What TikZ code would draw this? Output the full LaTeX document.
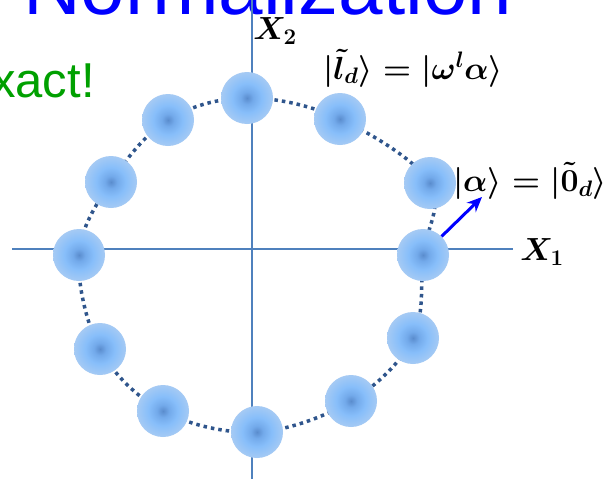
\RequirePackage{fix-cm}
\documentclass[tikz,border=0pt]{standalone}
\usepackage{amsmath}
\usepackage{fontspec}
\newfontfamily\arialfont{Liberation Sans}
\usetikzlibrary{arrows.meta}
\definecolor{axisblue}{RGB}{79,129,189}
\definecolor{dotblue}{RGB}{47,85,140}
\definecolor{titleblue}{RGB}{0,0,255}
\definecolor{exgreen}{RGB}{0,160,0}
\definecolor{ballc}{RGB}{90,140,205}
\definecolor{ballq}{RGB}{115,170,235}
\definecolor{ballm}{RGB}{135,190,250}
\definecolor{ballr}{RGB}{165,202,244}
\definecolor{ballt}{RGB}{188,210,238}
\definecolor{balle}{RGB}{202,216,238}
\pgfdeclareradialshading{ballshade}{\pgfpoint{0bp}{0bp}}{%
  color(0bp)=(ballc); color(6bp)=(ballq); color(14bp)=(ballm); color(25bp)=(ballr); color(37bp)=(ballt); color(50bp)=(balle); color(70bp)=(balle)}
\tikzset{
  ball/.style={circle, minimum size=52pt, inner sep=0pt, shading=ballshade},
  axisline/.style={draw=axisblue, line width=2pt},
  ring/.style={draw=dotblue, line width=3.5pt, dash pattern=on 3.5pt off 4pt},
  mlabel/.style={inner sep=0pt, font=\fontsize{32}{38}\selectfont\boldmath},
  bluearrow/.style={draw=titleblue, line width=3pt, -{Stealth[length=15pt,width=13pt]}}
}
\begin{document}
\begin{tikzpicture}[x=1pt,y=-1pt]
\useasboundingbox (0,0) rectangle (612,479);
\fill[white] (0,0) rectangle (612,479);
% title and side text (cut by the frame)
\node[anchor=base west, inner sep=0pt, text=titleblue, font=\arialfont\fontsize{80}{90}\selectfont] (title) at (23,14) {Normalization};
\node[anchor=base west, inner sep=0pt, text=exgreen, font=\arialfont\fontsize{49}{56}\selectfont] (exact) at (-9,97) {xact!};
% axes
\coordinate (xl) at (12,249);
\coordinate (xr) at (513,249);
\coordinate (yt) at (252,0);
\coordinate (yb) at (252,479);
\draw[axisline] (xl) -- (xr);
\draw[axisline] (yt) -- (yb);
% ball positions
\coordinate (c1) at (247,98);
\coordinate (c2) at (340,119);
\coordinate (c3) at (430,183);
\coordinate (c4) at (423,255);
\coordinate (c5) at (413,338);
\coordinate (c6) at (351,401);
\coordinate (c7) at (257,432);
\coordinate (c8) at (163,411);
\coordinate (c9) at (100,349);
\coordinate (c10) at (79,255);
\coordinate (c11) at (111,182);
\coordinate (c12) at (168,120);
\draw[ring] plot[smooth cycle, tension=0.6] coordinates {(c1) (c2) (c3) (c4) (c5) (c6) (c7) (c8) (c9) (c10) (c11) (c12)};
\foreach \i in {1,...,12} {\node[ball] (b\i) at (c\i) {};}
% labels
\node[mlabel] (x2) at (275,31) {$X_2$};
\node[mlabel] (x1) at (542,252) {$X_1$};
\node[mlabel] (l1) at (413,68) {$|\tilde{l}_d\rangle = |\omega^l\alpha\rangle$};
\node[mlabel] (l2) at (530,181) {$|\alpha\rangle = |\tilde{0}_d\rangle$};
\coordinate (atip) at (482,197);
\draw[bluearrow] (b4.45) -- (atip);
\end{tikzpicture}
\end{document}
